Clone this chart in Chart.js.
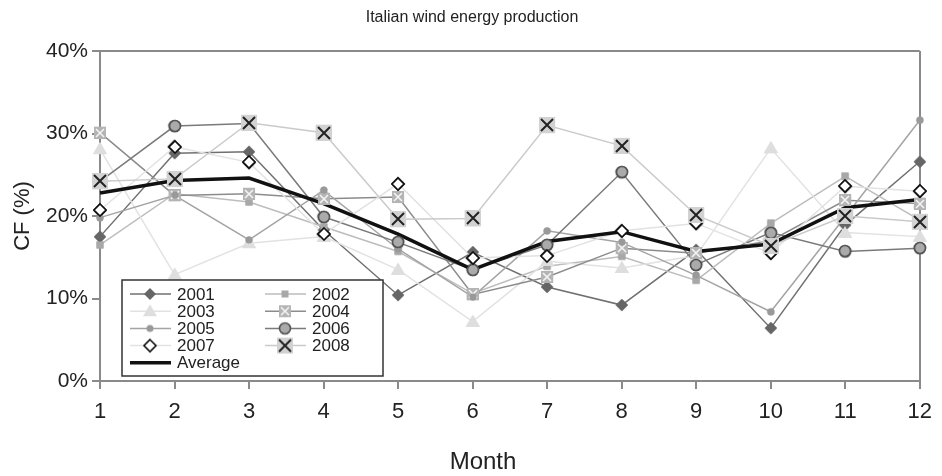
<!DOCTYPE html>
<html>
<head>
<meta charset="utf-8">
<script src="https://cdn.jsdelivr.net/npm/chart.js@4"></script>
<style>
  html, body { margin: 0; padding: 0; background: #fff; }
</style>
</head>
<body>
<canvas id="grafico" width="942" height="476"></canvas>
<script>
const months = ["1", "2", "3", "4", "5", "6", "7", "8", "9", "10", "11", "12"];
const yTicks = [0, 10, 20, 30, 40];

// capacity factor (%) per month
const cf2001 = [17.5, 27.6, 27.8, 18.3, 10.4, 15.6, 11.4, 9.2, 15.9, 6.4, 18.9, 26.6];
const cf2002 = [16.5, 22.7, 21.7, 18.7, 15.7, 10.6, 13.9, 15.1, 12.2, 19.1, 24.8, 19.5];
const cf2003 = [28.1, 12.9, 16.7, 17.5, 13.5, 7.2, 14.5, 13.7, 15.2, 28.2, 18.0, 17.5];
const cf2004 = [30.1, 22.5, 22.7, 22.1, 22.3, 10.5, 12.6, 16.1, 15.5, 17.0, 21.9, 21.5];
const cf2005 = [19.8, 22.5, 17.1, 23.1, 16.0, 10.2, 18.2, 16.8, 12.8, 8.4, 19.9, 31.6];
const cf2006 = [24.2, 30.9, 31.2, 19.9, 16.8, 13.5, 16.5, 25.3, 14.1, 18.0, 15.7, 16.1];
const cf2007 = [20.7, 28.4, 26.5, 17.8, 23.9, 14.9, 15.2, 18.2, 19.1, 15.5, 23.6, 23.0];
const cf2008 = [24.2, 24.5, 31.3, 30.1, 19.6, 19.7, 31.0, 28.5, 20.1, 16.4, 20.0, 19.3];
const cfAverage = [22.8, 24.3, 24.6, 21.5, 17.8, 13.5, 16.9, 18.1, 15.7, 16.6, 21.0, 22.0];

const FONT = "'Liberation Sans', Arial, sans-serif";
const AXIS = "#8a8a8a";

// small canvases used as point markers (and reused in the legend)
const marker = (kind) => {
  const c = document.createElement("canvas");
  c.width = 18; c.height = 18;
  const g = c.getContext("2d");
  const m = 9;
  if (kind === "diamond") {
    g.fillStyle = "#666";
    g.beginPath(); g.moveTo(m, m - 6); g.lineTo(m + 6, m); g.lineTo(m, m + 6); g.lineTo(m - 6, m); g.closePath(); g.fill();
  } else if (kind === "smallsquare") {
    g.fillStyle = "#a8a8a8";
    g.fillRect(m - 3.5, m - 3.5, 7, 7);
  } else if (kind === "triangle") {
    g.fillStyle = "#dedede";
    g.beginPath(); g.moveTo(m, m - 7); g.lineTo(m + 7, m + 5); g.lineTo(m - 7, m + 5); g.closePath(); g.fill();
  } else if (kind === "squarex") {
    g.fillStyle = "#b4b4b4";
    g.fillRect(m - 6, m - 6, 12, 12);
    g.strokeStyle = "#f4f4f4"; g.lineWidth = 1.6;
    g.beginPath(); g.moveTo(m - 4, m - 4); g.lineTo(m + 4, m + 4); g.moveTo(m + 4, m - 4); g.lineTo(m - 4, m + 4); g.stroke();
  } else if (kind === "dot") {
    g.fillStyle = "#999";
    g.beginPath(); g.arc(m, m, 3.5, 0, Math.PI * 2); g.fill();
  } else if (kind === "circle") {
    g.fillStyle = "#aaa"; g.strokeStyle = "#555"; g.lineWidth = 1.6;
    g.beginPath(); g.arc(m, m, 5.5, 0, Math.PI * 2); g.fill(); g.stroke();
  } else if (kind === "opendiamond") {
    g.fillStyle = "#fff"; g.strokeStyle = "#111"; g.lineWidth = 1.6;
    g.beginPath(); g.moveTo(m, m - 6); g.lineTo(m + 6, m); g.lineTo(m, m + 6); g.lineTo(m - 6, m); g.closePath(); g.fill(); g.stroke();
  } else if (kind === "bigx") {
    g.fillStyle = "#d2d2d2";
    g.fillRect(m - 8, m - 8, 16, 16);
    g.strokeStyle = "#222"; g.lineWidth = 2;
    g.beginPath(); g.moveTo(m - 6, m - 6); g.lineTo(m + 6, m + 6); g.moveTo(m + 6, m - 6); g.lineTo(m - 6, m + 6); g.stroke();
  }
  return c;
};

// year lines sit below the average; their markers are redrawn on top afterwards
const serie = (label, data, color, kind, order) => ({
  label,
  data,
  borderColor: color,
  backgroundColor: color,
  borderWidth: 1.5,
  pointStyle: marker(kind),
  pointRadius: 6,
  tension: 0,
  clip: false,
  order,
});

const datasets = [
  {
    label: "Average",
    data: cfAverage,
    borderColor: "#111",
    borderWidth: 3.5,
    pointRadius: 0,
    pointStyle: false,
    tension: 0,
    clip: false,
    order: 0,
  },
  serie("2001", cf2001, "#707070", "diamond", 8),
  serie("2002", cf2002, "#bdbdbd", "smallsquare", 7),
  serie("2003", cf2003, "#e2e2e2", "triangle", 6),
  serie("2004", cf2004, "#8c8c8c", "squarex", 5),
  serie("2005", cf2005, "#a4a4a4", "dot", 4),
  serie("2006", cf2006, "#7a7a7a", "circle", 3),
  serie("2007", cf2007, "#e2e2e2", "opendiamond", 2),
  serie("2008", cf2008, "#cacaca", "bigx", 1),
];

const legendOrder = ["2001", "2002", "2003", "2004", "2005", "2006", "2007", "2008", "Average"];

const boxLegend = {
  id: "boxLegend",
  afterDatasetsDraw(chart) {
    const ctx = chart.ctx;
    ctx.save();
    // markers over every line, later years on top
    chart.data.datasets.forEach((ds, i) => {
      if (!ds.pointStyle) return;
      chart.getDatasetMeta(i).data.forEach((pt) => {
        ctx.drawImage(ds.pointStyle, Math.round(pt.x) - 9, Math.round(pt.y) - 9);
      });
    });

    ctx.fillStyle = "#fff";
    ctx.fillRect(122, 280, 261, 96);
    ctx.strokeStyle = "#333";
    ctx.lineWidth = 1.5;
    ctx.strokeRect(122, 280, 261, 96);
    ctx.font = "17px " + FONT;
    ctx.textBaseline = "middle";
    ctx.fillStyle = "#222";
    legendOrder.forEach((name, i) => {
      const ds = chart.data.datasets.find((d) => d.label === name);
      const col = i === 8 ? 0 : i % 2;
      const row = Math.floor(i / 2);
      const x0 = col === 0 ? 130 : 265;
      const y = 294 + row * 17.2;
      ctx.strokeStyle = ds.borderColor;
      ctx.lineWidth = ds.borderWidth;
      ctx.beginPath();
      ctx.moveTo(x0, y);
      ctx.lineTo(x0 + 41, y);
      ctx.stroke();
      if (ds.pointStyle) ctx.drawImage(ds.pointStyle, x0 + 11, y - 9);
      ctx.fillText(name, x0 + 47, y + 1);
    });

    // x axis title, set slightly left of the plot centre as in the source
    ctx.font = "24px " + FONT;
    ctx.textAlign = "center";
    ctx.fillText("Month", 483, 462);
    ctx.restore();
  },
};

const ctx = document.getElementById("grafico").getContext("2d");
const chart = new Chart(ctx, {
  type: "line",
  data: { labels: months, datasets },
  plugins: [boxLegend],
  options: {
    responsive: false,
    animation: false,
    devicePixelRatio: 1,
    layout: { padding: { left: 2, right: 0, top: 0, bottom: 0 } },
    plugins: {
      legend: { display: false },
      tooltip: { enabled: false },
      title: {
        display: true,
        text: "Italian wind energy production",
        color: "#222",
        font: { family: FONT, size: 16, weight: "normal" },
        padding: { top: 8, bottom: 23.8 },
      },
    },
    scales: {
      x: {
        type: "category",
        offset: false,
        afterFit: (s) => { s.height = 95; },
        border: { color: AXIS, width: 2 },
        grid: {
          color: (c) => (c.index === 11 ? AXIS : "rgba(0,0,0,0)"),
          lineWidth: 2,
          tickColor: AXIS,
          tickLength: 8,
        },
        ticks: { color: "#222", font: { family: FONT, size: 22 }, padding: 10, maxRotation: 0 },
      },
      y: {
        min: 0,
        max: 40,
        afterFit: (s) => { s.width = 98; },
        afterBuildTicks: (s) => { s.ticks = yTicks.map((v) => ({ value: v })); },
        border: { color: AXIS, width: 2 },
        grid: {
          color: (c) => (c.tick && c.tick.value === 40 ? AXIS : "rgba(0,0,0,0)"),
          lineWidth: 2,
          tickColor: AXIS,
          tickLength: 8,
        },
        ticks: {
          color: "#222",
          font: { family: FONT, size: 21 },
          padding: 4,
          callback: (v) => v + "%",
        },
        title: {
          display: true,
          text: "CF (%)",
          color: "#222",
          font: { family: FONT, size: 22 },
          padding: { top: 8, bottom: 0 },
        },
      },
      // empty right-hand box so the plot stops at the same place as the source
      side: {
        position: "right",
        display: true,
        afterFit: (s) => { s.width = 22; },
        grid: { display: false, drawTicks: false },
        border: { display: false },
        ticks: { display: false },
      },
    },
  },
});
</script>
</body>
</html>
